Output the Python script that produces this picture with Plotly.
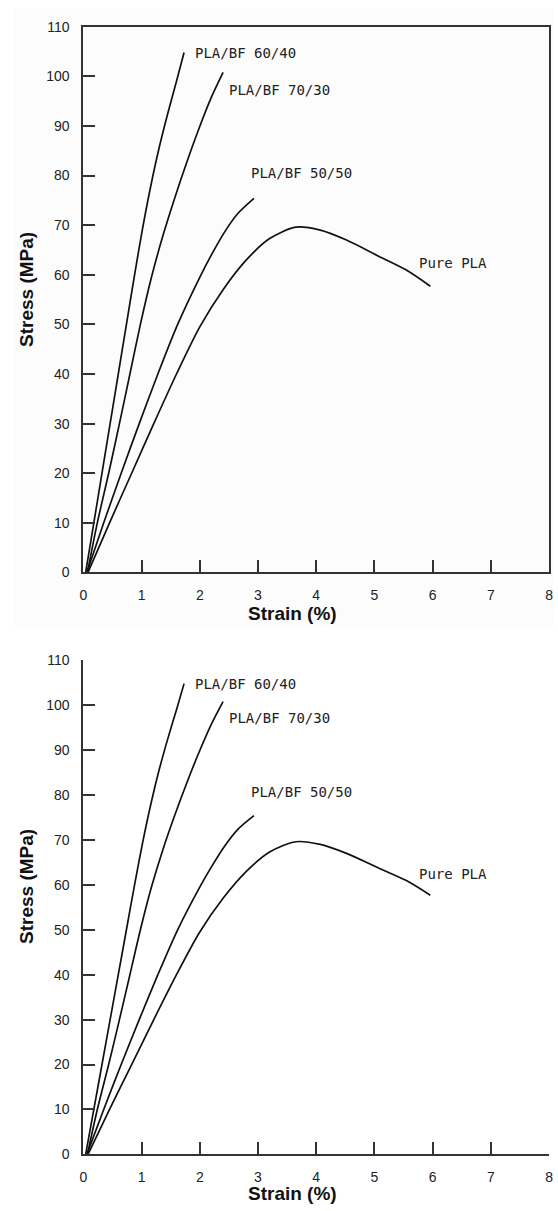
import plotly.graph_objects as go

# ---------------- data ----------------
pla_bf_6040_strain = [0.04, 0.18, 0.32, 0.46, 0.60, 0.74, 0.88, 1.02, 1.16, 1.30, 1.45, 1.60, 1.73]
pla_bf_6040_stress = [0, 10, 20, 30, 40, 50, 60, 69.5, 78, 85.5, 92.5, 99, 104.8]

pla_bf_7030_strain = [0.07, 0.24, 0.435, 0.62, 0.80, 0.98, 1.17, 1.37, 1.57, 1.78, 1.98, 2.20, 2.40]
pla_bf_7030_stress = [0, 10, 20, 30, 40, 50, 59.5, 68, 75.5, 82.8, 89.3, 95.8, 100.8]

pla_bf_5050_strain = [0.06, 0.35, 0.65, 0.96, 1.28, 1.62, 2.00, 2.20, 2.42, 2.65, 2.93]
pla_bf_5050_stress = [0, 10, 20, 30, 40, 50, 59.5, 64, 68.5, 72.3, 75.4]

pure_pla_strain = [0.08, 0.45, 0.83, 1.21, 1.60, 2.00, 2.40, 2.80, 3.20, 3.65, 4.07, 4.52, 5.08, 5.54, 5.96]
pure_pla_stress = [0, 10, 20, 30, 40, 49.5, 57, 63, 67.3, 69.6, 69.0, 67.0, 63.7, 61.0, 57.7]

series_names = ["PLA/BF 60/40", "PLA/BF 70/30", "PLA/BF 50/50", "Pure PLA"]
series_strain = [pla_bf_6040_strain, pla_bf_7030_strain, pla_bf_5050_strain, pure_pla_strain]
series_stress = [pla_bf_6040_stress, pla_bf_7030_stress, pla_bf_5050_stress, pure_pla_stress]

label_strain = [1.88, 2.47, 2.84, 5.73]
label_stress = [104.8, 97.2, 80.6, 62.4]

x_ticks = [0, 1, 2, 3, 4, 5, 6, 7, 8]
y_ticks = [0, 10, 20, 30, 40, 50, 60, 70, 80, 90, 100, 110]

x_title = "Strain (%)"
y_title = "Stress (MPa)"

# ---------------- layout helpers ----------------
W, H = 558, 1211
FONT = "Liberation Sans, Arial, sans-serif"
INK = "#222222"

def px_x(p):
    return p / W

def px_y(p):
    return 1 - p / H

x_dom = [px_x(80.5), px_x(553)]
top_dom = [px_y(572), px_y(19)]
bot_dom = [px_y(1161.7), px_y(661)]

fig = go.Figure()

for panel, (xa, ya) in enumerate([("x", "y"), ("x2", "y2")]):
    for name, xs, ys in zip(series_names, series_strain, series_stress):
        fig.add_trace(go.Scatter(
            x=xs, y=ys, mode="lines", name=name, xaxis=xa, yaxis=ya,
            line=dict(color="#111111", width=1.7, shape="spline", smoothing=0.8),
            showlegend=False, hoverinfo="skip",
        ))
    for name, lx, ly in zip(series_names, label_strain, label_stress):
        fig.add_annotation(
            x=lx, y=ly, xref=xa, yref=ya, text=name, showarrow=False,
            xanchor="left", yanchor="middle",
            font=dict(family="DejaVu Sans Mono, monospace", size=14, color=INK),
        )

common_axis = dict(
    showline=True, linewidth=2, linecolor="#333333",
    ticks="inside", ticklen=12, tickwidth=2, tickcolor="#333333",
    showgrid=False, zeroline=False,
    tickfont=dict(family=FONT, size=14, color=INK),
)

fig.update_layout(
    width=W, height=H,
    margin=dict(l=0, r=0, t=0, b=0),
    paper_bgcolor="white", plot_bgcolor="rgba(0,0,0,0)",
    showlegend=False,
    xaxis=dict(domain=x_dom, range=[0, 8], tickvals=x_ticks, anchor="y",
               mirror=True, ticklabelstandoff=9, **common_axis),
    yaxis=dict(domain=top_dom, range=[0, 110], tickvals=y_ticks, anchor="x",
               mirror=True, ticklabelstandoff=9, **common_axis),
    xaxis2=dict(domain=x_dom, range=[0, 8], tickvals=x_ticks, anchor="y2",
                mirror=False, ticklabelstandoff=9, **common_axis),
    yaxis2=dict(domain=bot_dom, range=[0, 110], tickvals=y_ticks, anchor="x2",
                mirror=False, ticklabelstandoff=9, **common_axis),
)

# faint background of the upper picture
fig.add_shape(type="rect", xref="paper", yref="paper",
              x0=px_x(10), x1=1, y0=px_y(628), y1=1,
              fillcolor="#fcfcfc", line=dict(width=0), layer="below")

title_font = dict(family=FONT, size=19, color="#111111", weight="bold")
for xt_y, yt_y in [(614, 285), (1201, 890)]:
    fig.add_annotation(x=px_x(292.5), y=px_y(xt_y), xref="paper", yref="paper",
                       text=x_title, showarrow=False, xanchor="center", yanchor="middle",
                       font=title_font)
    fig.add_annotation(x=px_x(23), y=px_y(yt_y), xref="paper", yref="paper",
                       text=y_title, showarrow=False, textangle=-90,
                       xanchor="center", yanchor="middle", font=title_font)

fig.write_html("out.html")
